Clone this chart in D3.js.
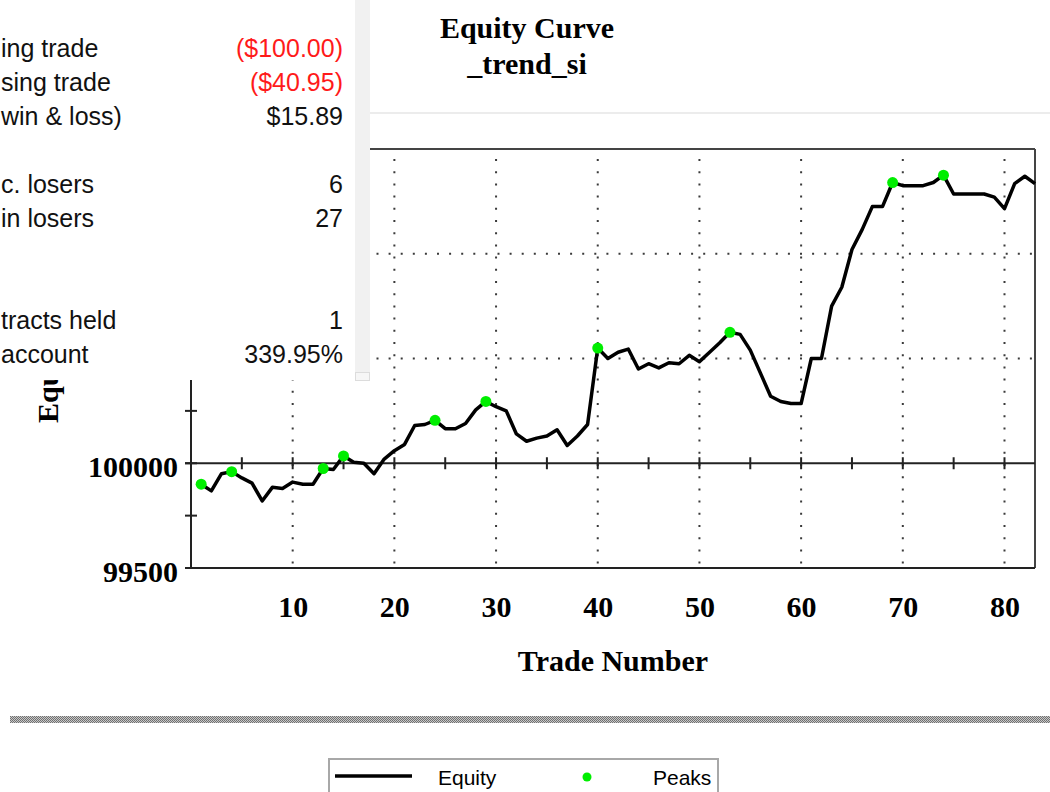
<!DOCTYPE html>
<html>
<head>
<meta charset="utf-8">
<script src="https://cdn.jsdelivr.net/npm/d3@7"></script>
<style>
  html, body { margin: 0; padding: 0; background: #fff; overflow: hidden; }
  svg { display: block; }
</style>
</head>
<body>
<svg id="chart"></svg>
<script>
// equity after each trade (trade 1 .. 83)
const equity = [
  99900, 99868, 99950, 99960, 99930, 99905, 99820, 99885, 99880, 99910,
  99900, 99900, 99975, 99970, 100035, 100005, 100000, 99950, 100020, 100060,
  100090, 100180, 100185, 100205, 100165, 100165, 100190, 100255, 100295, 100270,
  100250, 100140, 100105, 100120, 100130, 100160, 100085, 100130, 100185, 100550,
  100500, 100530, 100545, 100450, 100475, 100455, 100480, 100475, 100515, 100485,
  100530, 100575, 100625, 100615, 100540, 100430, 100320, 100295, 100285, 100285,
  100500, 100500, 100750, 100840, 101020, 101115, 101225, 101225, 101340, 101325,
  101325, 101325, 101340, 101375, 101285, 101285, 101285, 101285, 101270, 101215,
  101335, 101370, 101335
];
// trades marked as peaks
const peakTrades = [1, 4, 13, 15, 24, 29, 40, 53, 69, 74];

const xTickLabels = [10, 20, 30, 40, 50, 60, 70, 80];
const xSmallTicks = [5, 10, 15, 20, 25, 30, 35, 40, 45, 50, 55, 60, 65, 70, 75, 80];
const yTickLabels = [99500, 100000, 100500, 101000, 101500];
const ySmallTicks = [99750, 100250, 100750, 101250];
const yGridLines = [100500, 101000];

// report panel on the left (clipped on its left side)
const statLabels = ['ing trade', 'sing trade', 'win & loss)', 'c. losers', 'in losers', 'tracts held', 'account'];
const statValues = ['($100.00)', '($40.95)', '$15.89', '6', '27', '1', '339.95%'];
const statRows = [0, 1, 2, 4, 5, 8, 9];
const statIsLoss = [true, true, false, false, false, false, false];

const legendItems = ['Equity', 'Peaks'];

class EquityChart {

  constructor(_config) {
    this.config = {
      parentElement: _config.parentElement,
      containerWidth: 1050,
      containerHeight: 792,
      margin: {top: 149, right: 15, bottom: 224, left: 191}
    }
    this.data = equity.map((v, i) => ({trade: i + 1, value: v}));
    this.initVis();
  }

  initVis() {
    let vis = this;

    vis.width = vis.config.containerWidth - vis.config.margin.left - vis.config.margin.right;
    vis.height = vis.config.containerHeight - vis.config.margin.top - vis.config.margin.bottom;

    vis.xScale = d3.scaleLinear()
        .domain([0, equity.length])
        .range([0, vis.width]);

    vis.yScale = d3.scaleLinear()
        .domain([99500, 101500])
        .range([vis.height, 0]);

    vis.svg = d3.select(vis.config.parentElement)
        .attr('width', vis.config.containerWidth)
        .attr('height', vis.config.containerHeight);

    const serif = '"Liberation Serif", "Times New Roman", serif';

    // title
    vis.svg.append('text')
        .attr('x', 527).attr('y', 38)
        .attr('text-anchor', 'middle')
        .attr('font-family', serif).attr('font-weight', 'bold').attr('font-size', '30px')
        .text('Equity Curve');
    vis.svg.append('text')
        .attr('x', 527).attr('y', 74)
        .attr('text-anchor', 'middle')
        .attr('font-family', serif).attr('font-weight', 'bold').attr('font-size', '30px')
        .text('_trend_si');

    // faint divider under the title
    vis.svg.append('line')
        .attr('x1', 0).attr('x2', vis.config.containerWidth)
        .attr('y1', 113).attr('y2', 113)
        .attr('stroke', '#ececec').attr('stroke-width', 2);

    vis.chart = vis.svg.append('g')
        .attr('transform', `translate(${vis.config.margin.left},${vis.config.margin.top})`);

    // dotted grid
    vis.chart.selectAll('.vgrid')
        .data(xTickLabels)
      .join('line')
        .attr('class', 'vgrid')
        .attr('x1', d => vis.xScale(d)).attr('x2', d => vis.xScale(d))
        .attr('y1', 0).attr('y2', vis.height)
        .attr('stroke', '#3a3a3a').attr('stroke-width', 2)
        .attr('stroke-dasharray', '2,10.2')
        .attr('stroke-dashoffset', -10);

    vis.chart.selectAll('.hgrid')
        .data(yGridLines)
      .join('line')
        .attr('class', 'hgrid')
        .attr('x1', 0).attr('x2', vis.width)
        .attr('y1', d => vis.yScale(d)).attr('y2', d => vis.yScale(d))
        .attr('stroke', '#3a3a3a').attr('stroke-width', 2)
        .attr('stroke-dasharray', '2,10.1')
        .attr('stroke-dashoffset', -4);

    // frame
    vis.chart.append('line')
        .attr('x1', 0).attr('x2', vis.width).attr('y1', 0).attr('y2', 0)
        .attr('stroke', '#444').attr('stroke-width', 2);
    vis.chart.append('line')
        .attr('x1', vis.width).attr('x2', vis.width).attr('y1', 0).attr('y2', vis.height)
        .attr('stroke', '#444').attr('stroke-width', 2);
    vis.chart.append('line')
        .attr('x1', 0).attr('x2', 0).attr('y1', 0).attr('y2', vis.height + 1)
        .attr('stroke', '#222').attr('stroke-width', 2);
    vis.chart.append('line')
        .attr('x1', -6).attr('x2', vis.width).attr('y1', vis.height).attr('y2', vis.height)
        .attr('stroke', '#222').attr('stroke-width', 2);

    // zero line at 100000 with small ticks
    const y0 = vis.yScale(100000);
    vis.chart.append('line')
        .attr('x1', -6).attr('x2', vis.width).attr('y1', y0).attr('y2', y0)
        .attr('stroke', '#222').attr('stroke-width', 2);
    vis.chart.selectAll('.xtick')
        .data(xSmallTicks)
      .join('line')
        .attr('class', 'xtick')
        .attr('x1', d => vis.xScale(d)).attr('x2', d => vis.xScale(d))
        .attr('y1', y0 - 6).attr('y2', y0 + 6)
        .attr('stroke', '#222').attr('stroke-width', 2);

    // left axis ticks
    vis.chart.selectAll('.ytick')
        .data(yTickLabels.concat(ySmallTicks))
      .join('line')
        .attr('class', 'ytick')
        .attr('x1', -6).attr('x2', 6)
        .attr('y1', d => vis.yScale(d)).attr('y2', d => vis.yScale(d))
        .attr('stroke', '#222').attr('stroke-width', 2);

    // tick labels
    vis.chart.selectAll('.ylabel')
        .data(yTickLabels)
      .join('text')
        .attr('class', 'ylabel')
        .attr('x', -13)
        .attr('y', d => vis.yScale(d) + 14)
        .attr('text-anchor', 'end')
        .attr('font-family', serif).attr('font-weight', 'bold').attr('font-size', '30px')
        .text(d => d);

    vis.xAxis = d3.axisBottom(vis.xScale)
        .tickValues(xTickLabels)
        .tickSize(0)
        .tickFormat(d => d);
    vis.xAxisG = vis.chart.append('g')
        .attr('transform', `translate(0,${vis.height})`)
        .call(vis.xAxis);
    vis.xAxisG.select('.domain').remove();
    vis.xAxisG.selectAll('text')
        .attr('y', 49).attr('dy', null)
        .attr('fill', '#000')
        .attr('font-family', serif).attr('font-weight', 'bold').attr('font-size', '30px');

    vis.chart.append('text')
        .attr('x', vis.width / 2)
        .attr('y', vis.height + 103)
        .attr('text-anchor', 'middle')
        .attr('font-family', serif).attr('font-weight', 'bold').attr('font-size', '30px')
        .text('Trade Number');

    vis.svg.append('text')
        .attr('transform', 'translate(58,423) rotate(-90)')
        .attr('font-family', serif).attr('font-weight', 'bold').attr('font-size', '30px')
        .text('Equity');

    vis.updateVis();
  }

  updateVis() {
    let vis = this;

    vis.line = d3.line()
        .x(d => vis.xScale(d.trade))
        .y(d => vis.yScale(d.value));

    vis.peaks = vis.data.filter(d => peakTrades.includes(d.trade));

    vis.renderVis();
  }

  renderVis() {
    let vis = this;
    const sans = '"Liberation Sans", Arial, sans-serif';

    vis.chart.append('path')
        .datum(vis.data)
        .attr('fill', 'none')
        .attr('stroke', '#000')
        .attr('stroke-width', 3.5)
        .attr('stroke-linejoin', 'round')
        .attr('d', vis.line);

    vis.chart.selectAll('.peak')
        .data(vis.peaks)
      .join('circle')
        .attr('class', 'peak')
        .attr('cx', d => vis.xScale(d.trade))
        .attr('cy', d => vis.yScale(d.value))
        .attr('r', 5.5)
        .attr('fill', '#00ee00');

    // hatched separator bar
    const defs = vis.svg.append('defs');
    const pat = defs.append('pattern')
        .attr('id', 'hatch')
        .attr('width', 2).attr('height', 2)
        .attr('patternUnits', 'userSpaceOnUse');
    pat.append('rect').attr('width', 2).attr('height', 2).attr('fill', '#c8c8c8');
    pat.append('rect').attr('width', 1).attr('height', 1).attr('fill', '#707070');
    pat.append('rect').attr('x', 1).attr('y', 1).attr('width', 1).attr('height', 1).attr('fill', '#707070');

    vis.svg.append('rect')
        .attr('x', 10).attr('y', 716)
        .attr('width', 1040).attr('height', 7)
        .attr('fill', 'url(#hatch)');

    // legend
    const legend = vis.svg.append('g');
    legend.append('rect')
        .attr('x', 329).attr('y', 759)
        .attr('width', 389).attr('height', 45)
        .attr('fill', '#fff')
        .attr('stroke', '#a8a8a8').attr('stroke-width', 2);
    legend.append('line')
        .attr('x1', 335).attr('x2', 412)
        .attr('y1', 776).attr('y2', 776)
        .attr('stroke', '#000').attr('stroke-width', 3.5);
    legend.append('circle')
        .attr('cx', 587).attr('cy', 777).attr('r', 4.5)
        .attr('fill', '#00ee00');
    legend.selectAll('.legend-label')
        .data(legendItems)
      .join('text')
        .attr('class', 'legend-label')
        .attr('x', (d, i) => i === 0 ? 438 : 653)
        .attr('y', 785)
        .attr('font-family', sans).attr('font-size', '21px')
        .text(d => d);

    // report panel lying over the left of the chart
    const panel = vis.svg.append('g');
    panel.append('rect')
        .attr('x', 0).attr('y', 0).attr('width', 355).attr('height', 380)
        .attr('fill', '#fff');
    panel.append('rect')
        .attr('x', 355).attr('y', 0).attr('width', 15).attr('height', 372)
        .attr('fill', '#f1f1f1');
    panel.append('rect')
        .attr('x', 355.5).attr('y', 372.5).attr('width', 14).attr('height', 8)
        .attr('fill', '#f6f6f6').attr('stroke', '#dcdcdc');

    panel.selectAll('.stat-label')
        .data(statLabels)
      .join('text')
        .attr('class', 'stat-label')
        .attr('x', 1)
        .attr('y', (d, i) => 57 + statRows[i] * 34)
        .attr('font-family', sans).attr('font-size', '25px')
        .attr('fill', '#111')
        .text(d => d);

    panel.selectAll('.stat-value')
        .data(statValues)
      .join('text')
        .attr('class', 'stat-value')
        .attr('x', 343)
        .attr('y', (d, i) => 57 + statRows[i] * 34)
        .attr('text-anchor', 'end')
        .attr('font-family', sans).attr('font-size', '25px')
        .attr('fill', (d, i) => statIsLoss[i] ? '#ff1a1a' : '#111')
        .text(d => d);
  }
}

new EquityChart({parentElement: '#chart'});
</script>
</body>
</html>
